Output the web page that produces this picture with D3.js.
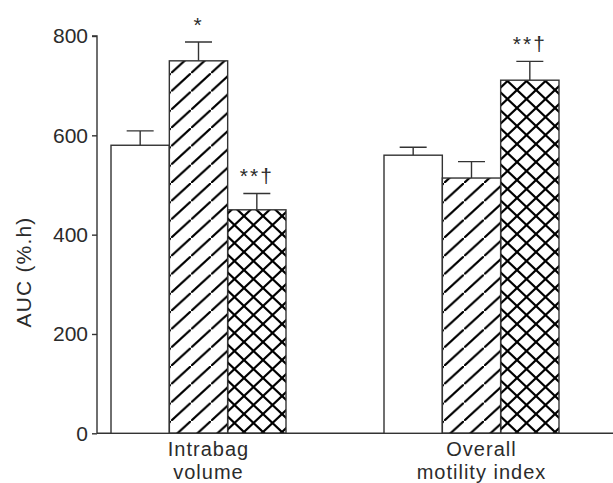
<!DOCTYPE html>
<html>
<head>
<meta charset="utf-8">
<script src="https://cdn.jsdelivr.net/npm/d3@7"></script>
<style>
  body { margin: 0; background: #fff; }
  text { font-family: "Liberation Sans", Arial, sans-serif; fill: #2b2b2b; }
</style>
</head>
<body>
<div id="chart"></div>
<script>
// data
var categories = [["Intrabag", "volume"], ["Overall", "motility index"]];
var groups = ["Intrabag volume", "Overall motility index"];
var series = ["control", "hatch", "cross"];
var means = [[580, 750, 450], [560, 514, 711]];
var errTops = [[609, 788, 483], [576, 547, 749]];
var marks = [["", "*", "**\u2020"], ["", "", "**\u2020"]];
var yTicks = [0, 200, 400, 600, 800];

var width = 613, height = 483;

var svg = d3.select("#chart").append("svg")
    .attr("width", width)
    .attr("height", height);

var defs = svg.append("defs");

// single hatch "/"
var hatch = defs.append("pattern")
    .attr("id", "hatch")
    .attr("patternUnits", "userSpaceOnUse")
    .attr("width", 20).attr("height", 18.3);
hatch.append("line")
    .attr("x1", -2).attr("y1", 18.3 + 1.83).attr("x2", 22).attr("y2", -1.83)
    .attr("stroke", "#000").attr("stroke-width", 2.2);

// crosshatch
var cross = defs.append("pattern")
    .attr("id", "cross")
    .attr("patternUnits", "userSpaceOnUse")
    .attr("width", 19).attr("height", 18);
cross.append("line")
    .attr("x1", -2).attr("y1", 18 + 1.9).attr("x2", 21).attr("y2", -1.9)
    .attr("stroke", "#000").attr("stroke-width", 2.2);
cross.append("line")
    .attr("x1", -2).attr("y1", -1.9).attr("x2", 21).attr("y2", 18 + 1.9)
    .attr("stroke", "#000").attr("stroke-width", 2.2);

var fills = { control: "#fff", hatch: "url(#hatch)", cross: "url(#cross)" };

var y = d3.scaleLinear().domain([0, 800]).range([433.3, 36]);

var x = d3.scaleBand()
    .domain(groups)
    .range([97, 573])
    .paddingInner(0.359)
    .paddingOuter(0.0513);

var xs = d3.scaleBand()
    .domain(series)
    .range([0, x.bandwidth()]);

// y axis
var yAxis = d3.axisLeft(y)
    .tickValues(yTicks)
    .tickSize(5)
    .tickPadding(4);
var gy = svg.append("g")
    .attr("transform", "translate(97,0)")
    .call(yAxis);
gy.select(".domain").attr("stroke", "#333").attr("stroke-width", 1.4)
    .attr("d", "M-5," + y(800) + "H0V" + y(0));
gy.selectAll(".tick line").attr("stroke", "#333").attr("stroke-width", 1.4);
gy.selectAll(".tick text")
    .style("font-size", "21px")
    .style("font-family", "'Liberation Sans', Arial, sans-serif")
    .attr("fill", "#2b2b2b");

// x axis line to right edge
svg.append("line")
    .attr("x1", 97).attr("x2", width)
    .attr("y1", y(0)).attr("y2", y(0))
    .attr("stroke", "#333").attr("stroke-width", 1.4);

// bars
groups.forEach(function(g, gi) {
    var gg = svg.append("g").attr("transform", "translate(" + x(g) + ",0)");
    var rows = series.map(function(s, si) {
        return { s: s, v: means[gi][si], e: errTops[gi][si], m: marks[gi][si] };
    });

    // error bars
    gg.selectAll(".err").data(rows).enter().append("path")
        .attr("class", "err")
        .attr("d", function(d) {
            var cx = xs(d.s) + xs.bandwidth() / 2;
            return "M" + cx + "," + y(d.v) + "V" + y(d.e) +
                   "M" + (cx - 13.5) + "," + y(d.e) + "H" + (cx + 13.5);
        })
        .attr("stroke", "#333").attr("stroke-width", 1.4).attr("fill", "none");

    gg.selectAll(".bar").data(rows).enter().append("rect")
        .attr("class", "bar")
        .attr("x", function(d) { return xs(d.s); })
        .attr("y", function(d) { return y(d.v); })
        .attr("width", xs.bandwidth())
        .attr("height", function(d) { return y(0) - y(d.v); })
        .attr("fill", function(d) { return fills[d.s]; })
        .attr("stroke", "#333").attr("stroke-width", 1.4);

    gg.selectAll(".mark").data(rows).enter().append("text")
        .attr("class", "mark")
        .attr("x", function(d) { return xs(d.s) + xs.bandwidth() / 2; })
        .attr("y", function(d) { return y(d.e) - 10; })
        .attr("text-anchor", "middle")
        .style("font-size", "21px")
        .style("letter-spacing", "2px")
        .text(function(d) { return d.m; });

    // category label, two lines
    var cx = x(g) + x.bandwidth() / 2 + 10;
    categories[gi].forEach(function(line, li) {
        svg.append("text")
            .attr("x", cx)
            .attr("y", 456 + li * 22.5)
            .attr("text-anchor", "middle")
            .style("font-size", "20px")
            .style("letter-spacing", "1px")
            .text(line);
    });
});

// y label
svg.append("text")
    .attr("transform", "translate(31,272) rotate(-90)")
    .attr("text-anchor", "middle")
    .style("font-size", "21px")
    .style("letter-spacing", "1.2px")
    .text("AUC (%.h)");
</script>
</body>
</html>
